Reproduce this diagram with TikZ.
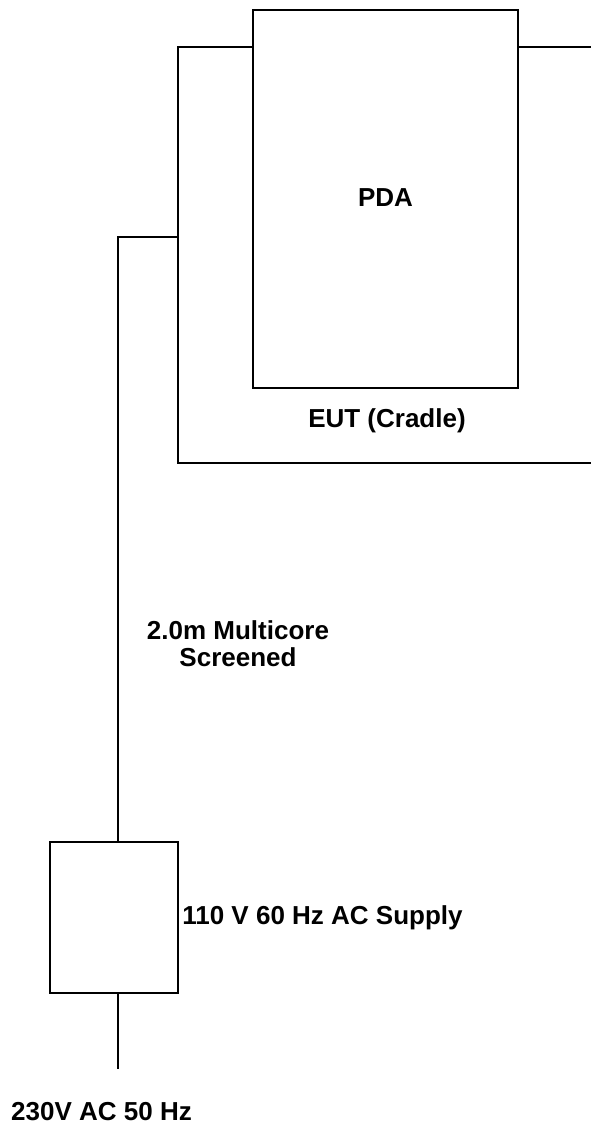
\documentclass[tikz,border=0pt]{standalone}
\usepackage{fontspec}
\setmainfont{Liberation Sans}
\begin{document}
\begin{tikzpicture}[x=1pt,y=-1pt,
  wire/.style={line width=2pt, line join=miter, line cap=rect},
  box/.style={draw, line width=2pt, inner sep=0pt, outer sep=0pt},
  lbl/.style={font=\fontsize{26}{29}\selectfont\bfseries, inner sep=0pt, anchor=base}]
\useasboundingbox (0,0) rectangle (590,1126);
% PDA box
\node[box, minimum width=265pt, minimum height=378pt] (pda) at (385.5,199) {};
\node[lbl] (pdat) at (385.5,207) {PDA};
% cradle outline
\coordinate (ctl) at (178,47.5);
\coordinate (cbl) at (178,463);
\coordinate (cbr) at (590,463);
\coordinate (ctr) at (590,47.5);
\coordinate (cab) at (178,236.5);
\draw[wire] (pda.west |- ctl) -- (ctl) -- (cbl) -- (cbr);
\draw[wire] (pda.east |- ctr) -- (ctr);
\node[lbl] (eut) at (387,427) {EUT (Cradle)};
% supply box
\node[box, minimum width=128.5pt, minimum height=150.5pt] (sup) at (113.75,917.25) {};
\coordinate (cabl) at (117.5,236.5);
\draw[wire] (cab) -- (cabl) -- (cabl |- sup.north);
\coordinate (mains) at (117.5,1068);
\draw[wire] (sup.south -| mains) -- (mains);
% labels
\node[lbl] (mc1) at (238,639) {2.0m Multicore};
\node[lbl] (mc2) at (238,666) {Screened};
\node[lbl] (supt) at (322.5,924) {110 V 60 Hz AC Supply};
\node[lbl] (mainst) at (101.5,1120) {230V AC 50 Hz};
\end{tikzpicture}
\end{document}
